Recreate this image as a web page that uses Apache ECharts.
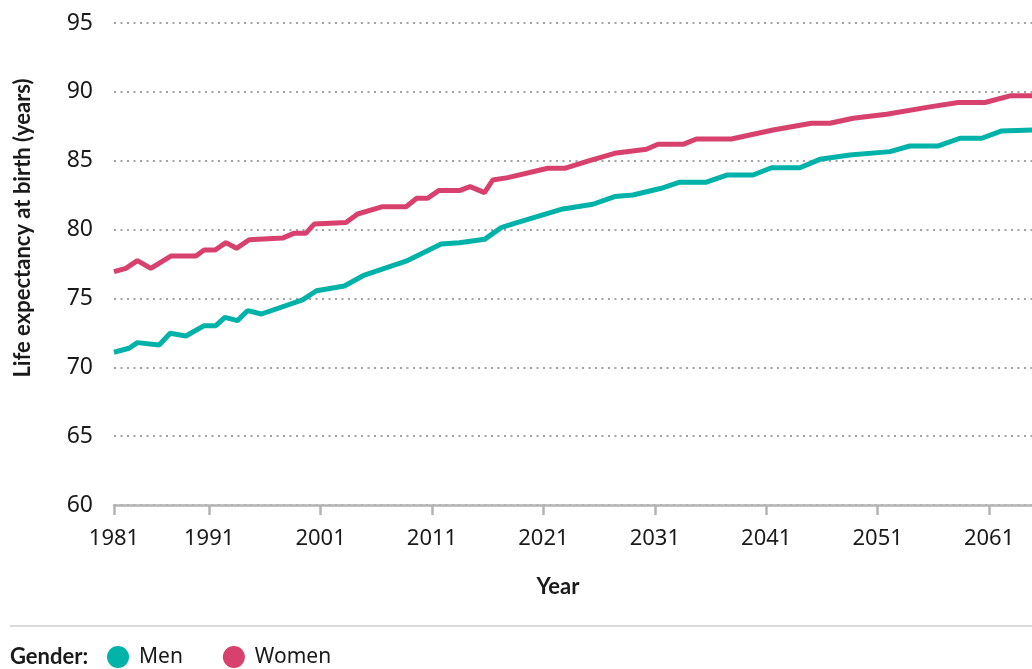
<!DOCTYPE html>
<html>
<head>
<meta charset="utf-8">
<script src="https://cdn.jsdelivr.net/npm/echarts@6/dist/echarts.min.js"></script>
<style>
  html, body { margin: 0; padding: 0; background: #fff; }
  #chart { width: 1032px; height: 669px; }
</style>
</head>
<body>
<div id="chart"></div>
<script>
// positions on the time axis (axis starts at the "1981" tick)
const axisStart = 1982.46;
const axisEnd = 2064.85;
const tickYears = [axisStart, 1991, 2001, 2011, 2021, 2031, 2041, 2051, 2061];
const tickLabels = ['1981', '1991', '2001', '2011', '2021', '2031', '2041', '2051', '2061'];

const menYears = [1982.46, 1983.81, 1984.56, 1986.51, 1987.5, 1988.91, 1990.55, 1991.6, 1992.41, 1993.54,
  1994.44, 1995.7, 1999.38, 2000.64, 2003.13, 2004.93, 2008.67, 2011.82, 2013.46, 2015.71,
  2017.21, 2018.4, 2022.74, 2025.44, 2027.39, 2029.03, 2031.58, 2033.23, 2035.63, 2037.45,
  2039.81, 2041.47, 2044.01, 2045.81, 2048.5, 2052.1, 2053.89, 2056.44, 2058.39, 2060.34,
  2062.13, 2064.85];
const menValues = [71.09, 71.38, 71.79, 71.62, 72.47, 72.27, 73.02, 73.02, 73.63, 73.39,
  74.11, 73.87, 74.89, 75.56, 75.9, 76.7, 77.7, 78.95, 79.05, 79.29,
  80.14, 80.45, 81.5, 81.84, 82.4, 82.51, 83.0, 83.44, 83.44, 83.96,
  83.96, 84.49, 84.49, 85.1, 85.42, 85.66, 86.07, 86.07, 86.63, 86.63,
  87.16, 87.23];

const womenYears = [1982.46, 1983.52, 1984.56, 1985.76, 1987.56, 1989.81, 1990.55, 1991.54, 1992.5, 1993.45,
  1994.59, 1997.59, 1998.64, 1999.69, 2000.43, 2003.28, 2004.32, 2006.57, 2008.67, 2009.63,
  2010.61, 2011.6, 2013.46, 2014.42, 2015.71, 2016.45, 2017.8, 2021.39, 2022.9, 2025.14,
  2027.39, 2030.24, 2031.28, 2033.53, 2034.73, 2037.87, 2041.61, 2045.06, 2046.71, 2048.8,
  2051.8, 2055.69, 2058.23, 2060.63, 2062.88, 2064.85];
const womenValues = [76.94, 77.18, 77.74, 77.18, 78.08, 78.08, 78.52, 78.52, 79.05, 78.64,
  79.26, 79.38, 79.74, 79.74, 80.4, 80.51, 81.13, 81.66, 81.66, 82.27,
  82.27, 82.83, 82.83, 83.12, 82.68, 83.6, 83.77, 84.45, 84.45, 85.01,
  85.54, 85.83, 86.19, 86.19, 86.58, 86.58, 87.23, 87.72, 87.72, 88.08,
  88.37, 88.91, 89.23, 89.23, 89.71, 89.71];

const FONT = '"Noto Sans", "Open Sans", sans-serif';
const BOLD = 'Lato, "Noto Sans", sans-serif';
const TEAL = '#00b2a7';
const PINK = '#d8416d';

const chart = echarts.init(document.getElementById('chart'));

const pairs = (xs, ys) => xs.map((x, i) => [x, ys[i]]);

chart.setOption({
  backgroundColor: '#fff',
  animation: false,
  textStyle: { fontFamily: FONT },
  grid: { left: 114, right: 0, top: 23, bottom: 164, containLabel: false },
  xAxis: {
    type: 'value',
    min: axisStart,
    max: axisEnd,
    axisLine: { show: true, lineStyle: { color: '#b4b4b4', width: 2.5 } },
    axisTick: { show: true, length: 10, customValues: tickYears, lineStyle: { color: '#b4b4b4', width: 2.5 } },
    axisLabel: {
      customValues: tickYears,
      margin: 23,
      color: '#1a1a1a',
      fontSize: 22,
      fontFamily: FONT,
      formatter: (v) => tickLabels[tickYears.indexOf(v)] || ''
    },
    splitLine: { show: false }
  },
  yAxis: {
    type: 'value',
    min: 60,
    max: 95,
    interval: 5,
    axisLine: { show: false },
    axisTick: { show: false },
    axisLabel: { margin: 21, color: '#1a1a1a', fontSize: 23, fontFamily: FONT },
    splitLine: { show: true, lineStyle: { type: [2, 4.5], color: '#a3a3a3', width: 2 } }
  },
  legend: {
    left: 107,
    top: 646,
    padding: 0,
    icon: 'circle',
    itemWidth: 22,
    itemHeight: 22,
    itemGap: 40,
    textStyle: { fontSize: 21, color: '#1a1a1a', fontFamily: FONT, padding: [0, 0, 0, 5] },
    data: ['Men', 'Women']
  },
  graphic: [
    {
      type: 'text', x: 10, y: 657,
      style: { text: 'Gender:', font: 'bold 22px ' + BOLD, fill: '#1a1a1a', verticalAlign: 'middle' }
    },
    {
      type: 'line',
      shape: { x1: 10, y1: 626, x2: 1032, y2: 626 },
      style: { stroke: '#cfcfcf', lineWidth: 1.5 }
    },
    {
      type: 'text', x: 558, y: 587,
      style: { text: 'Year', font: 'bold 22px ' + BOLD, fill: '#1a1a1a', align: 'center', verticalAlign: 'middle' }
    },
    {
      type: 'text', x: 23, y: 228, rotation: Math.PI / 2,
      style: { text: 'Life expectancy at birth (years)', font: 'bold 22px ' + BOLD, fill: '#1a1a1a', align: 'center', verticalAlign: 'middle' }
    }
  ],
  series: [
    {
      name: 'Men', type: 'line', showSymbol: false, color: TEAL,
      lineStyle: { width: 5, color: TEAL },
      data: pairs(menYears, menValues)
    },
    {
      name: 'Women', type: 'line', showSymbol: false, color: PINK,
      lineStyle: { width: 5, color: PINK },
      data: pairs(womenYears, womenValues)
    }
  ]
});
</script>
</body>
</html>
